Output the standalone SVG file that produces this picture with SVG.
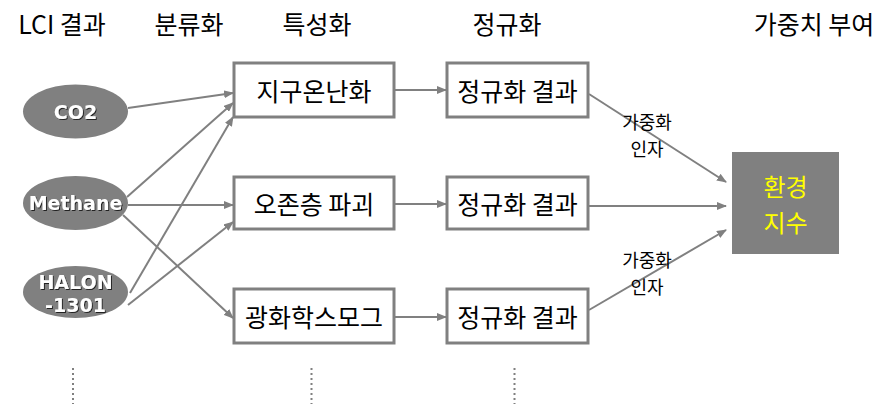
<svg xmlns="http://www.w3.org/2000/svg" width="894" height="404" viewBox="0 0 894 404">
<style>
.hdr{font-family:"Noto Sans CJK KR","Noto Sans",sans-serif;font-size:25px;fill:#000;text-anchor:middle}
.box{fill:#fff;stroke:#808080;stroke-width:3}
.bt{font-family:"Noto Sans CJK KR","Noto Sans",sans-serif;font-size:25px;fill:#000;text-anchor:middle;dominant-baseline:central}
.ell{fill:#808080}
.et{font-family:"DejaVu Sans",Verdana,sans-serif;font-weight:bold;font-size:19px;fill:#fff;text-anchor:middle;filter:url(#sh)}
.con{stroke:#808080;stroke-width:2;fill:none;marker-end:url(#ah)}
.lbl{font-family:"Noto Sans CJK KR","Noto Sans",sans-serif;font-size:18px;fill:#000;text-anchor:middle}
.rt{font-family:"Noto Sans CJK KR","Noto Sans",sans-serif;font-size:24px;fill:#ffff00;text-anchor:middle}
.dot{stroke:#808080;stroke-width:2;stroke-dasharray:2 3}
</style>
<defs>
<marker id="ah" markerWidth="10" markerHeight="8" refX="9" refY="4" orient="auto" markerUnits="userSpaceOnUse">
<path d="M0,0 L10,4 L0,8 z" fill="#808080"/>
</marker>
<filter id="sh" x="-20%" y="-20%" width="140%" height="140%">
<feDropShadow dx="1" dy="1" stdDeviation="0.3" flood-color="#222"/>
</filter>
</defs>
<g id="headers">
<text class="hdr" x="62" y="34">LCI 결과</text>
<text class="hdr" x="189" y="34">분류화</text>
<text class="hdr" x="317" y="34">특성화</text>
<text class="hdr" x="507" y="34">정규화</text>
<text class="hdr" x="814" y="34">가중치 부여</text>
</g>
<g id="connectors">
<line class="con" x1="128" y1="108" x2="233" y2="93"/>
<line class="con" x1="127" y1="197" x2="233" y2="103"/>
<line class="con" x1="130" y1="293" x2="233" y2="117"/>
<line class="con" x1="128" y1="205" x2="233" y2="205"/>
<line class="con" x1="128" y1="305" x2="233" y2="222"/>
<line class="con" x1="123" y1="215" x2="233" y2="318"/>
<line class="con" x1="395" y1="90" x2="446" y2="90"/>
<line class="con" x1="395" y1="204" x2="446" y2="204"/>
<line class="con" x1="395" y1="317" x2="446" y2="317"/>
<line class="con" x1="589" y1="94" x2="726" y2="182"/>
<line class="con" x1="589" y1="206" x2="726" y2="206"/>
<line class="con" x1="589" y1="310" x2="726" y2="230"/>
</g>
<g id="lbl1"><text class="lbl" x="647" y="129">가중화<tspan x="647" dy="26.5">인자</tspan></text></g>
<g id="lbl2"><text class="lbl" x="647" y="267">가중화<tspan x="647" dy="26.5">인자</tspan></text></g>
<g id="co2"><ellipse class="ell" cx="75.5" cy="111.5" rx="52.5" ry="27"/><text class="et" x="75.5" y="118.5">CO2</text></g>
<g id="methane"><ellipse class="ell" cx="75.5" cy="203" rx="52.5" ry="27"/><text class="et" x="75.5" y="210">Methane</text></g>
<g id="halon"><ellipse class="ell" cx="75.5" cy="292" rx="52.5" ry="26"/><text class="et" x="75.5" y="289">HALON<tspan x="75.5" dy="22.5">-1301</tspan></text></g>
<g id="gw"><rect class="box" x="234" y="63" width="160" height="54"/><text class="bt" x="314" y="90">지구온난화</text></g>
<g id="oz"><rect class="box" x="234" y="177" width="160" height="52"/><text class="bt" x="314" y="203">오존층 파괴</text></g>
<g id="smog"><rect class="box" x="234" y="289" width="160" height="54"/><text class="bt" x="314" y="316">광화학스모그</text></g>
<g id="n1"><rect class="box" x="447" y="63" width="141" height="54"/><text class="bt" x="517.5" y="90">정규화 결과</text></g>
<g id="n2"><rect class="box" x="447" y="177" width="141" height="52"/><text class="bt" x="517.5" y="203">정규화 결과</text></g>
<g id="n3"><rect class="box" x="447" y="289" width="141" height="54"/><text class="bt" x="517.5" y="316">정규화 결과</text></g>
<g id="result"><rect x="732" y="152" width="107" height="102" fill="#808080"/><text class="rt" x="785.5" y="196">환경<tspan x="785.5" dy="35.5">지수</tspan></text></g>
<g id="dots">
<line class="dot" x1="73" y1="368" x2="73" y2="404"/>
<line class="dot" x1="311.5" y1="368" x2="311.5" y2="404"/>
<line class="dot" x1="514.5" y1="368" x2="514.5" y2="404"/>
</g>
</svg>
